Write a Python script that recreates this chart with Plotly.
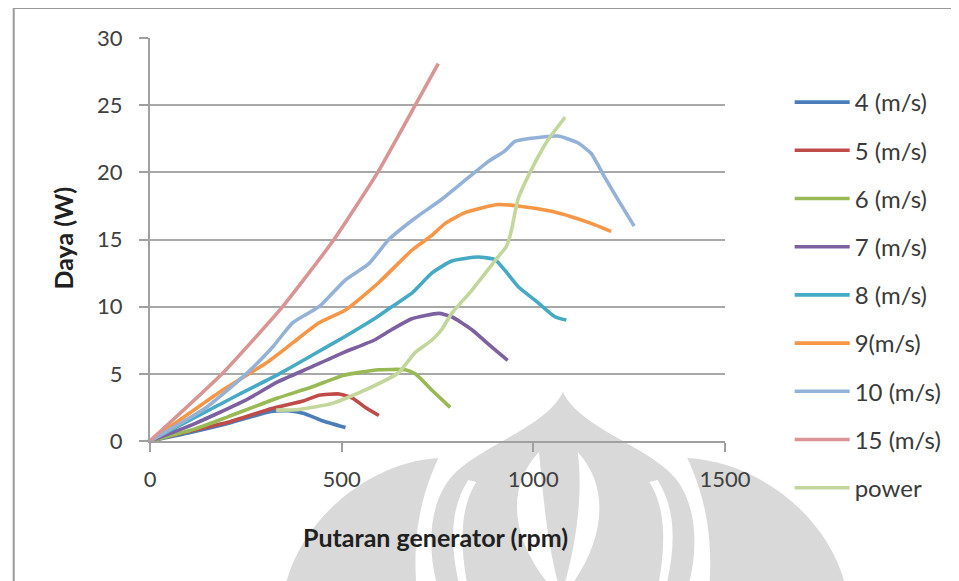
import plotly.graph_objects as go

# ---- data ----
rpm_4 = [0, 100, 203, 316, 360, 402, 446, 510]
daya_4 = [0, 0.6, 1.3, 2.2, 2.25, 2.05, 1.55, 1.0]

rpm_5 = [0, 100, 203, 316, 402, 441, 493, 528, 562, 597]
daya_5 = [0, 0.7, 1.4, 2.4, 3.0, 3.4, 3.5, 3.2, 2.5, 1.9]

rpm_6 = [0, 117, 203, 333, 420, 506, 597, 666, 692, 735, 783]
daya_6 = [0, 0.9, 1.8, 3.2, 4.0, 4.9, 5.3, 5.3, 5.0, 3.8, 2.5]

rpm_7 = [0, 117, 247, 333, 420, 506, 584, 631, 683, 753, 787, 839, 891, 933]
daya_7 = [0, 1.3, 3.0, 4.4, 5.5, 6.6, 7.5, 8.3, 9.1, 9.5, 9.25, 8.3, 7.0, 6.0]

rpm_8 = [0, 234, 337, 424, 510, 580, 631, 683, 735, 787, 856, 900, 926, 960, 1012, 1056, 1086]
daya_8 = [0, 3.5, 5.0, 6.4, 7.8, 9.0, 10.0, 11.0, 12.5, 13.4, 13.7, 13.5, 12.7, 11.5, 10.3, 9.25, 9.0]

rpm_9 = [0, 190, 303, 372, 441, 510, 597, 683, 735, 770, 822, 908, 960, 1047, 1099, 1151, 1203]
daya_9 = [0, 3.8, 5.8, 7.3, 8.8, 9.75, 11.8, 14.2, 15.3, 16.2, 17.0, 17.6, 17.5, 17.1, 16.7, 16.2, 15.6]

rpm_10 = [0, 147, 251, 320, 372, 441, 510, 571, 623, 692, 761, 830, 882, 926, 952, 986, 1064, 1116, 1151, 1185, 1220, 1263]
daya_10 = [0, 2.5, 5.0, 7.0, 8.8, 10.0, 12.0, 13.2, 15.0, 16.6, 18.0, 19.6, 20.8, 21.6, 22.3, 22.5, 22.7, 22.2, 21.4, 19.7, 18.0, 16.0]

rpm_15 = [0, 188, 346, 480, 594, 692, 752]
daya_15 = [0, 5.0, 10.0, 15.0, 20.0, 25.0, 28.1]

rpm_power = [329, 389, 476, 562, 649, 692, 735, 761, 787, 839, 908, 930, 943, 960, 995, 1038, 1083]
daya_power = [2.3, 2.35, 2.8, 3.8, 5.1, 6.6, 7.5, 8.3, 9.5, 11.2, 13.7, 14.5, 15.7, 18.0, 20.2, 22.4, 24.1]

series_names = ["4 (m/s)", "5 (m/s)", "6 (m/s)", "7 (m/s)", "8 (m/s)",
                "9(m/s)", "10 (m/s)", "15 (m/s)", "power"]
series_x = [rpm_4, rpm_5, rpm_6, rpm_7, rpm_8, rpm_9, rpm_10, rpm_15, rpm_power]
series_y = [daya_4, daya_5, daya_6, daya_7, daya_8, daya_9, daya_10, daya_15, daya_power]
series_colors = ["#4A7EBB", "#BE4B48", "#98B954", "#7D60A0", "#46AAC5",
                 "#F79646", "#94B2D8", "#D99593", "#C3D69B"]

x_ticks = [0, 500, 1000, 1500]
y_ticks = [0, 5, 10, 15, 20, 25, 30]

FONT = "Lato, 'Open Sans', sans-serif"

fig = go.Figure()
for name, xs, ys, col in zip(series_names, series_x, series_y, series_colors):
    fig.add_trace(go.Scatter(
        x=xs, y=ys, mode="lines", name=name, legendgroup=name,
        line=dict(color=col, width=3.6, shape="spline", smoothing=0.5),
    ))

# page has an 8px body margin; layout below is given in reference page pixels
OFF = 8
W, H = 959 - OFF, 581 - OFF
X0, X1, Y0, Y1 = 150, 728, 38, 441          # plot area in page pixels
L, R, T, B = X0 - OFF, W - (X1 - OFF), Y0 - OFF, H - (Y1 - OFF)
pw, ph = X1 - X0, Y1 - Y0


def px(x):
    return (x - X0) / pw


def py(y):
    return (Y1 - y) / ph


def path(cmds):
    out = []
    for c in cmds:
        if isinstance(c, str):
            out.append(c)
        else:
            out.append("%.4f,%.4f" % (px(c[0]), py(c[1])))
    return " ".join(out)


WM = "#D9D9D9"
watermark = [
    # left lobe
    ["M", (285, 590), "C", (300, 520), (370, 462), (440, 458),
     "C", (425, 490), (413, 530), (418, 590), "Z"],
    # right lobe
    ["M", (850, 590), "C", (835, 520), (765, 462), (690, 458),
     "C", (705, 490), (717, 530), (712, 590), "Z"],
    # central dome
    ["M", (565, 392), "C", (548, 428), (478, 447), (452, 478),
     "C", (430, 505), (428, 550), (440, 590), "L", (690, 590),
     "C", (702, 550), (700, 505), (678, 478),
     "C", (652, 447), (582, 428), (565, 392), "Z"],
]
leaves = [
    ["M", (541, 452), "C", (505, 490), (515, 545), (556, 590),
     "L", (562, 590), "C", (548, 540), (545, 490), (541, 452), "Z"],
    ["M", (580, 452), "C", (615, 490), (605, 545), (570, 590),
     "L", (565, 590), "C", (580, 540), (585, 490), (580, 452), "Z"],
    # white inner outline of the dome
    ["M", (470, 480), "C", (450, 510), (452, 550), (462, 590), "L", (470, 590),
     "C", (462, 550), (460, 510), (478, 482), "Z"],
    ["M", (660, 480), "C", (680, 510), (678, 550), (668, 590), "L", (660, 590),
     "C", (668, 550), (670, 510), (652, 482), "Z"],
]

shapes = []
for p in watermark:
    shapes.append(dict(type="path", xref="paper", yref="paper", layer="below",
                       path=path(p), fillcolor=WM, line=dict(width=0)))
for p in leaves:
    shapes.append(dict(type="path", xref="paper", yref="paper", layer="below",
                       path=path(p), fillcolor="white", line=dict(width=0)))
shapes.append(dict(type="rect", xref="paper", yref="paper", layer="below",
                   x0=px(13), x1=px(975), y0=py(600), y1=py(8),
                   line=dict(color="#9A9A9A", width=2), fillcolor="rgba(0,0,0,0)"))

fig.update_layout(
    width=W, height=H,
    margin=dict(l=L, r=R, t=T, b=B, pad=0),
    paper_bgcolor="white", plot_bgcolor="rgba(0,0,0,0)",
    font=dict(family=FONT, size=22, color="#404040"),
    showlegend=True,
    legend=dict(
        x=px(793), y=py(80), xanchor="left", yanchor="top",
        font=dict(family=FONT, size=24, color="#3A3A3A"),
        tracegroupgap=14, itemwidth=55, maxheight=600,
        bgcolor="rgba(0,0,0,0)",
    ),
    xaxis=dict(
        range=[0, 1500], tickvals=x_ticks, showgrid=False, zeroline=False,
        showline=True, linecolor="#A0A0A0", linewidth=2,
        ticks="outside", ticklen=9, tickcolor="#A0A0A0", tickwidth=2,
        ticklabelstandoff=9, tickfont=dict(family=FONT, size=22, color="#404040"),
    ),
    yaxis=dict(
        range=[0, 30], tickvals=y_ticks, showgrid=True, gridcolor="#A8A8A8", gridwidth=2,
        zeroline=False, showline=True, linecolor="#A0A0A0", linewidth=2,
        ticks="outside", ticklen=9, tickcolor="#A0A0A0", tickwidth=2,
        ticklabelstandoff=12, tickfont=dict(family=FONT, size=22, color="#404040"),
    ),
    annotations=[
        dict(text="<b>Putaran generator (rpm)</b>", xref="paper", yref="paper",
             x=px(437), y=py(537), xanchor="center", yanchor="middle", showarrow=False,
             font=dict(family=FONT, size=25, color="#202020")),
        dict(text="<b>Daya (W)</b>", xref="paper", yref="paper", textangle=-90,
             x=px(63), y=py(238), xanchor="center", yanchor="middle", showarrow=False,
             font=dict(family=FONT, size=25, color="#202020")),
    ],
    shapes=shapes,
)

fig.write_html("out.html")
